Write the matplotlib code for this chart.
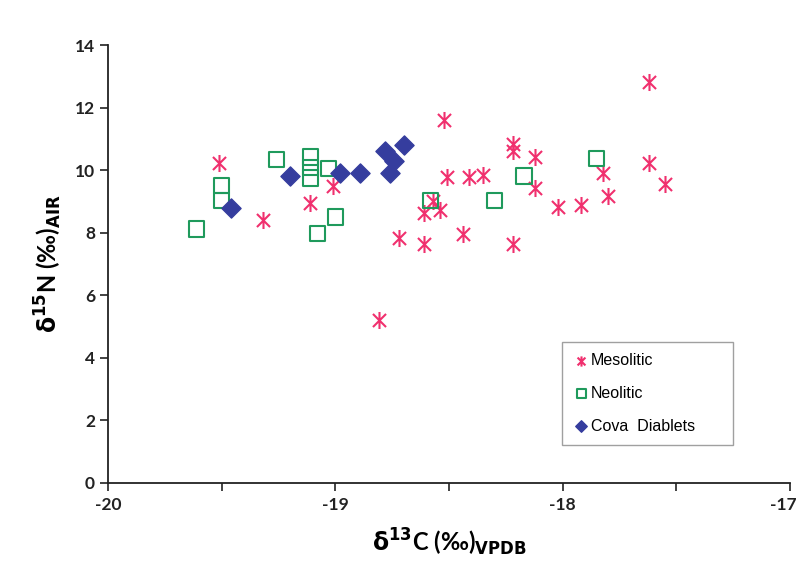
import matplotlib
matplotlib.use("Agg")
import matplotlib.pyplot as plt
from matplotlib.path import Path
from matplotlib.transforms import ScaledTranslation
import numpy as np

plt.rcParams['font.family'] = ['Lato', 'DejaVu Sans']
plt.rcParams['mathtext.fontset'] = 'dejavusans'
plt.rcParams['mathtext.default'] = 'bf'

# Mesolitic
meso_x = [-19.51, -19.32, -19.11, -19.01, -18.81, -18.52, -18.22, -18.22, -18.12,
          -18.51, -18.41, -18.35, -18.12, -18.61, -18.54, -18.57, -18.72, -18.61,
          -18.44, -18.22, -18.02, -17.92, -17.62, -17.82, -17.80, -17.62, -17.55]
meso_y = [10.23, 8.40, 8.95, 9.50, 5.20, 11.60, 10.85, 10.62, 10.42,
          9.78, 9.78, 9.84, 9.43, 8.63, 8.72, 9.00, 7.83, 7.65,
          7.95, 7.65, 8.82, 8.90, 12.82, 9.90, 9.17, 10.23, 9.56]

# Neolitic
neo_x = [-19.61, -19.50, -19.50, -19.26, -19.11, -19.11, -19.11, -19.03, -19.00,
         -19.08, -18.17, -18.30, -18.58, -17.85]
neo_y = [8.12, 9.50, 9.04, 10.35, 10.42, 10.08, 9.75, 10.05, 8.50,
         7.98, 9.81, 9.04, 9.04, 10.38]

# Cova Diablets
cova_x = [-19.46, -19.20, -18.98, -18.89, -18.78, -18.70, -18.74, -18.76]
cova_y = [8.79, 9.81, 9.90, 9.90, 10.60, 10.80, 10.28, 9.92]

# Excel-style asterisk: an X with a vertical bar
star = Path([(-1, -1), (1, 1), (-1, 1), (1, -1), (0, -1.3), (0, 1.3)],
            [Path.MOVETO, Path.LINETO, Path.MOVETO, Path.LINETO,
             Path.MOVETO, Path.LINETO])

fig = plt.figure(figsize=(8.01, 5.81), dpi=100)
ax = fig.add_axes([0.135, 0.169, 0.851, 0.7535])

ax.scatter(meso_x, meso_y, marker=star, s=150, color='#f0306e',
           linewidths=1.5, label='Mesolitic', zorder=3)
ax.scatter(neo_x, neo_y, marker='s', s=120, facecolors='none',
           edgecolors='#1f9a5c', linewidths=1.5, label='Neolitic', zorder=3)
ax.scatter(cova_x, cova_y, marker='D', s=95, color='#353d9e',
           label='Cova  Diablets', zorder=4)

ax.set_xlim(-20, -17)
ax.set_ylim(0, 14)
ax.set_xticks(np.arange(-20, -16.99, 0.5))
ax.set_xticklabels(['-20', '', '-19', '', '-18', '', '-17'])
ax.set_yticks(np.arange(0, 15, 2))

for side in ['top', 'right']:
    ax.spines[side].set_visible(False)
for side in ['left', 'bottom']:
    ax.spines[side].set_linewidth(1.3)
    ax.spines[side].set_color('#222222')

ax.tick_params(direction='out', length=6, width=1.2, colors='#222222',
               labelsize=12.5)
for lab in ax.get_xticklabels() + ax.get_yticklabels():
    lab.set_fontweight('bold')
ax.tick_params(axis='x', pad=4)

# nudge the last x label so it stays inside the picture
last = ax.get_xticklabels()[-1]
last.set_transform(last.get_transform() + ScaledTranslation(-5 / 72, 0, fig.dpi_scale_trans))

ax.set_xlabel(r'$\delta^{13}$C (‰)$_{VPDB}$', fontsize=17, fontweight='bold',
              labelpad=10)
ax.set_ylabel(r'$\delta^{15}$N (‰)$_{AIR}$', fontsize=17, fontweight='bold',
              labelpad=8)

leg = ax.legend(loc='lower left', bbox_to_anchor=(0.666, 0.087, 0.251, 0.05),
                mode='expand', prop={'family': 'Liberation Sans', 'size': 11.5},
                frameon=True, fancybox=False, edgecolor='#888888',
                handletextpad=0.1, borderpad=0.7, labelspacing=1.1,
                handlelength=1.0, markerscale=0.6, borderaxespad=0)
leg.get_frame().set_linewidth(1.0)

fig.savefig('out.png', dpi=100)
